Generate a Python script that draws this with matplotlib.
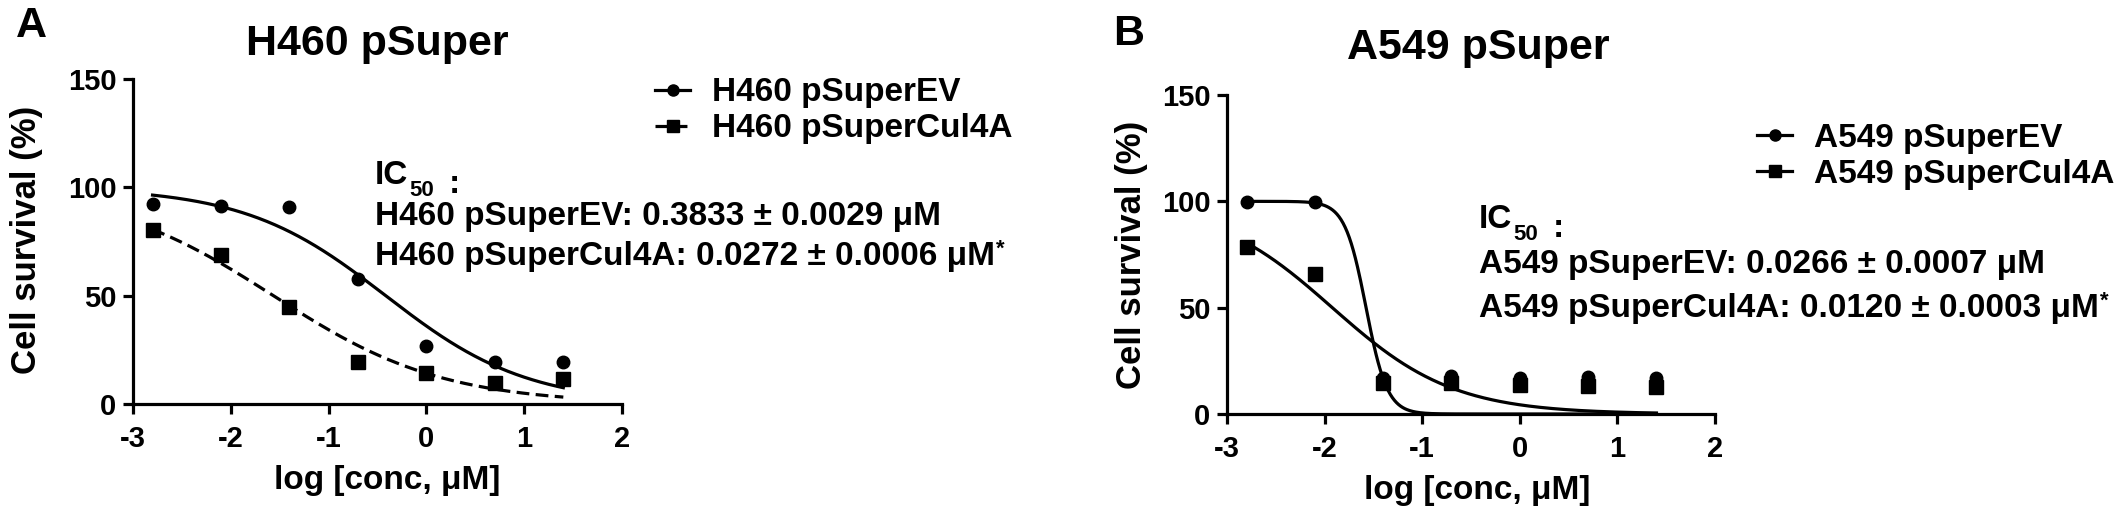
import numpy as np
import matplotlib
matplotlib.use("Agg")
import matplotlib.pyplot as plt
from matplotlib.lines import Line2D

plt.rcParams['font.family'] = ['Liberation Sans', 'DejaVu Sans']
plt.rcParams['font.weight'] = 'bold'
plt.rcParams['axes.unicode_minus'] = False

W, H = 2126, 523

# data
log_conc = [-2.8, -2.1, -1.4, -0.7, 0.0, 0.7, 1.4]
h460_ev = [92.5, 91.4, 91.0, 57.5, 26.7, 19.4, 19.4]
h460_cul = [80.3, 68.6, 44.7, 19.4, 14.3, 9.7, 11.6]
a549_ev = [99.5, 99.5, 17.0, 17.9, 16.7, 17.5, 16.8]
a549_cul = [78.7, 66.0, 14.8, 14.5, 13.6, 13.3, 12.5]

x_ticks = [-3, -2, -1, 0, 1, 2]
y_ticks = [0, 50, 100, 150]

# fitted dose-response parameters (IC50 in uM, hill slope estimated)
h460_ev_fit = (0.3833, 0.6)
h460_cul_fit = (0.0272, 0.5)
a549_ev_fit = (0.0266, 4.0)
a549_cul_fit = (0.0120, 0.7)

ic50_h460 = ["H460 pSuperEV: 0.3833 \u00b1 0.0029 \u03bcM",
             "H460 pSuperCul4A: 0.0272 \u00b1 0.0006 \u03bcM"]
ic50_a549 = ["A549 pSuperEV: 0.0266 \u00b1 0.0007 \u03bcM",
             "A549 pSuperCul4A: 0.0120 \u00b1 0.0003 \u03bcM"]


def fx(x):
    return x / W


def fy(y):
    return 1 - y / H


def curve(xs, ic50, hill, top=100.0, bottom=0.0):
    return bottom + (top - bottom) / (1 + 10 ** ((xs - np.log10(ic50)) * hill))


fig = plt.figure(figsize=(W / 100, H / 100), dpi=100)


def panel(left, right, top, bottom, ev, cul, ev_fit, cul_fit, cul_dash):
    ax = fig.add_axes([fx(left), fy(bottom), fx(right - left), (bottom - top) / H])
    xs = np.linspace(log_conc[0], log_conc[-1], 400)
    ls = (0, (4, 2)) if cul_dash else '-'
    ax.plot(xs, curve(xs, *ev_fit), color='black', lw=2.3)
    ax.plot(xs, curve(xs, *cul_fit), color='black', lw=2.3, ls=ls)
    ax.plot(log_conc, ev, 'o', color='black', ms=9, clip_on=False)
    ax.plot(log_conc, cul, 's', color='black', ms=10, clip_on=False)
    ax.set_xlim(-3, 2)
    ax.set_ylim(0, 150)
    ax.set_xticks(x_ticks)
    ax.set_xticklabels([str(v) for v in x_ticks], fontweight='bold', fontsize=21)
    ax.set_yticks(y_ticks)
    ax.set_yticklabels([str(v) for v in y_ticks], fontweight='bold', fontsize=21)
    for s in ['top', 'right']:
        ax.spines[s].set_visible(False)
    for s in ['left', 'bottom']:
        ax.spines[s].set_linewidth(2.3)
    ax.tick_params(width=2.3, length=7)
    ax.tick_params(axis='x', pad=8)
    ax.tick_params(axis='y', pad=5)
    return ax, ls


def ic50_block(ax, x, y0, dy, lines):
    t = fig.text(fx(x), fy(y0), "IC", fontsize=24, fontweight='bold', va='center')
    sub = ax.annotate("50", xy=(1, 0), xycoords=t, xytext=(1, 1), textcoords='offset points',
                      fontsize=16, fontweight='bold', va='center', annotation_clip=False)
    ax.annotate(":", xy=(1, 0.5), xycoords=sub, xytext=(10, 4), textcoords='offset points',
                fontsize=24, fontweight='bold', va='center', annotation_clip=False)
    fig.text(fx(x), fy(y0 + dy), lines[0], fontsize=24, fontweight='bold', va='center')
    t2 = fig.text(fx(x), fy(y0 + 2 * dy), lines[1], fontsize=24, fontweight='bold', va='center')
    ax.annotate("*", xy=(1, 1), xycoords=t2, xytext=(1, -6), textcoords='offset points',
                fontsize=16, fontweight='bold', va='center', annotation_clip=False)


def legend(labels, ls2, x, y):
    handles = [Line2D([], [], color='black', lw=2.3, marker='o', ms=8),
               Line2D([], [], color='black', lw=2.3, marker='s', ms=8, ls=ls2)]
    fig.legend(handles, labels, loc='center left', bbox_to_anchor=(fx(x), fy(y)),
               frameon=False, handlelength=1.05, handletextpad=0.65,
               labelspacing=0.15, borderpad=0, borderaxespad=0, numpoints=1,
               prop={'weight': 'bold', 'size': 24})


# panel A
axA, lsA = panel(133, 622, 79, 404, h460_ev, h460_cul, h460_ev_fit, h460_cul_fit, True)
fig.text(fx(16), fy(26), "A", fontsize=31, fontweight='bold', va='center')
fig.text(fx(377), fy(44), "H460 pSuper", fontsize=31, fontweight='bold', ha='center', va='center')
fig.text(fx(27), fy(240), "Cell survival (%)", fontsize=25, fontweight='bold',
         rotation=90, ha='center', va='center')
fig.text(fx(387), fy(480), "log [conc, \u03bcM]", fontsize=24, fontweight='bold',
         ha='center', va='center')
legend(["H460 pSuperEV", "H460 pSuperCul4A"], lsA, 655, 111)
ic50_block(axA, 375, 176, 40, ic50_h460)

# panel B
axB, lsB = panel(1227, 1715, 95, 414, a549_ev, a549_cul, a549_ev_fit, a549_cul_fit, False)
fig.text(fx(1113), fy(34), "B", fontsize=31, fontweight='bold', va='center')
fig.text(fx(1478), fy(48), "A549 pSuper", fontsize=31, fontweight='bold', ha='center', va='center')
fig.text(fx(1131), fy(255), "Cell survival (%)", fontsize=25, fontweight='bold',
         rotation=90, ha='center', va='center')
fig.text(fx(1477), fy(490), "log [conc, \u03bcM]", fontsize=24, fontweight='bold',
         ha='center', va='center')
legend(["A549 pSuperEV", "A549 pSuperCul4A"], lsB, 1757, 156)
ic50_block(axB, 1479, 220, 44, ic50_a549)

fig.savefig("out.png", dpi=100)
